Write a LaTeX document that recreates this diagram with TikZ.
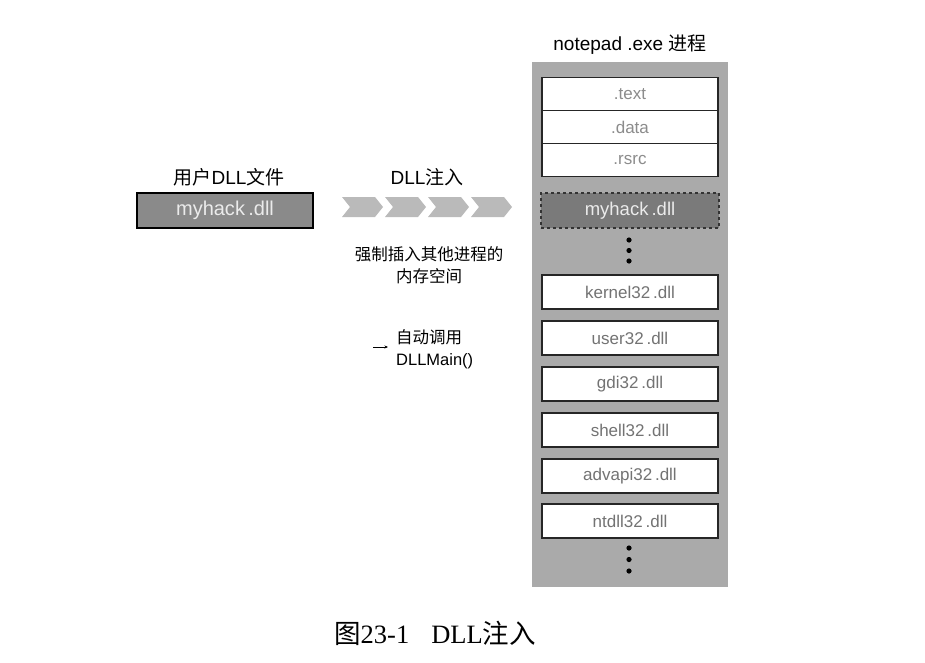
\documentclass[tikz,border=0pt]{standalone}
\usepackage{fontspec}
\setmainfont{Liberation Sans}
\newfontfamily\cjk{Noto Sans CJK SC}
\newfontfamily\capserif{Liberation Serif}
\newcommand{\zh}[1]{{\cjk #1}}
\usetikzlibrary{arrows.meta}
\definecolor{colgray}{RGB}{170,170,170}
\definecolor{darkbox}{RGB}{122,122,122}
\definecolor{leftbox}{RGB}{138,138,138}
\definecolor{chev}{RGB}{186,186,186}
\definecolor{labgray}{RGB}{115,115,115}
\definecolor{seclab}{RGB}{140,140,140}
\begin{document}
\begin{tikzpicture}[x=1pt,y=-1pt,
  secbox/.style={draw=black!85,line width=1.2pt,fill=white,minimum width=176pt,minimum height=34pt,inner sep=0pt,text=labgray,font=\fontsize{17}{17}\selectfont},
  injbox/.style={draw=black!80,dashed,line width=1.2pt,fill=darkbox,minimum width=178pt,minimum height=35pt,inner sep=0pt,text=white!92!black,font=\fontsize{18.5}{18.5}\selectfont},
  srcbox/.style={draw=black,line width=1.4pt,fill=leftbox,minimum width=176pt,minimum height=35pt,inner sep=0pt,text=white!92!black,font=\fontsize{20}{20}\selectfont},
  lab/.style={font=\fontsize{19}{19}\selectfont,inner sep=0pt},
  note/.style={font=\fontsize{16.5}{22}\selectfont,inner sep=0pt,align=center},
  dotc/.style={fill=black,draw=none}
]
\useasboundingbox (0,0) rectangle (925,662);
% process column
\fill[colgray] (532,62) rectangle (728,587);
\node[lab] (title) at (630,45) {notepad .exe \zh{进程}};
% sections
\node[secbox,minimum height=33pt,text=seclab] (text) at (630,94) {.text};
\node[secbox,minimum height=33pt,text=seclab] (data) at (630,127) {.data};
\node[secbox,minimum height=33pt,text=seclab] (rsrc) at (630,160) {.rsrc};
\node[injbox] (inj) at (630,210.5) {myhack\,.dll};
\foreach \yy in {240,250.5,261}{\fill[dotc] (629,\yy) circle (2.6pt);}
\node[secbox] (k32) at (630,292) {kernel32\,.dll};
\node[secbox] (u32) at (630,338) {user32\,.dll};
\node[secbox] (g32) at (630,384) {gdi32\,.dll};
\node[secbox] (s32) at (630,430) {shell32\,.dll};
\node[secbox] (a32) at (630,476) {advapi32\,.dll};
\node[secbox] (n32) at (630,521) {ntdll32\,.dll};
\foreach \yy in {548,559.5,571}{\fill[dotc] (629,\yy) circle (2.6pt);}
% source dll
\node[lab] (srclab) at (229,177) {\zh{用户}DLL\zh{文件}};
\node[srcbox] (src) at (225,210.5) {myhack\,.dll};
% injection chevrons
\node[lab] (injlab) at (427,177) {DLL\zh{注入}};
\foreach \L in {342,385,428,471}{
  \fill[chev] (\L,197) -- (\L+33,197) -- (\L+41,207) -- (\L+33,217) -- (\L,217) -- (\L+8,207) -- cycle;
}
\node[note] (force) at (429,265) {\zh{强制插入其他进程的}\\\zh{内存空间}};
\node[note,align=left,anchor=west] (call) at (396,349) {\zh{自动调用}\\DLLMain()};
\coordinate (arrstart) at (373,347);
\draw[-{Stealth[length=3.5pt,width=3pt]},line width=0.7pt] (arrstart) -- (388,347);
% caption
\node[inner sep=0pt,font=\fontsize{26.5}{26.5}\selectfont] (cap) at (435,633) {{\cjk 图}{\capserif 23-1\hspace{22pt}DLL}{\cjk 注入}};
\end{tikzpicture}
\end{document}
